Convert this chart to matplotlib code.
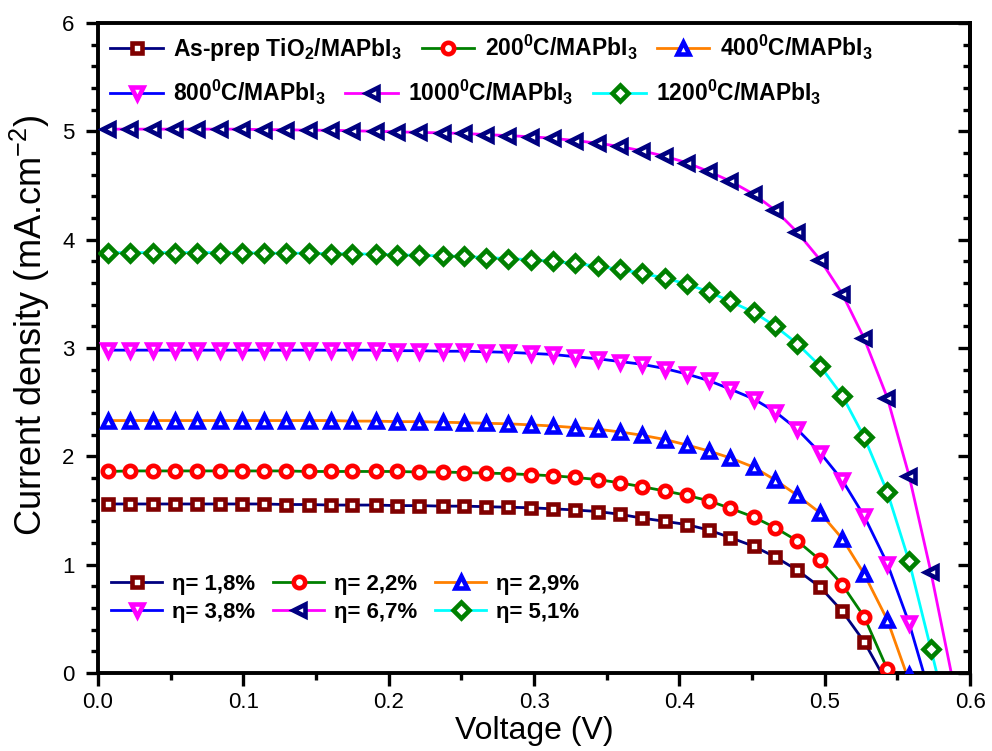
import matplotlib
matplotlib.use("Agg")
import matplotlib.pyplot as plt
from matplotlib.lines import Line2D
from matplotlib.ticker import MultipleLocator, FormatStrFormatter

plt.rcParams["font.family"] = ["Liberation Sans", "DejaVu Sans"]
plt.rcParams["mathtext.fontset"] = "custom"
plt.rcParams["mathtext.rm"] = "Liberation Sans"
plt.rcParams["mathtext.bf"] = "Liberation Sans:bold"
plt.rcParams["mathtext.it"] = "Liberation Sans:italic"

# voltage grid shared by all marker points (V)
voltage = [0.007, 0.022, 0.038, 0.053, 0.068, 0.084, 0.099, 0.114, 0.129, 0.145,
           0.160, 0.175, 0.191, 0.206, 0.221, 0.237, 0.252, 0.267, 0.282, 0.298,
           0.313, 0.328, 0.344, 0.359, 0.374, 0.390, 0.405, 0.420, 0.435, 0.451,
           0.466, 0.481, 0.497, 0.512, 0.527, 0.543, 0.558, 0.573]

# current density (mA/cm2) for each sample
j_asprep = [1.56, 1.56, 1.56, 1.56, 1.56, 1.56, 1.56, 1.56, 1.555, 1.555,
            1.55, 1.55, 1.55, 1.545, 1.545, 1.54, 1.54, 1.535, 1.53, 1.525,
            1.515, 1.505, 1.49, 1.465, 1.43, 1.40, 1.37, 1.32, 1.25, 1.17,
            1.07, 0.95, 0.79, 0.57, 0.29]
j_200 = [1.86, 1.865, 1.865, 1.865, 1.865, 1.865, 1.865, 1.865, 1.865, 1.86,
         1.86, 1.86, 1.86, 1.86, 1.855, 1.855, 1.85, 1.845, 1.84, 1.83,
         1.82, 1.805, 1.785, 1.755, 1.72, 1.68, 1.64, 1.59, 1.52, 1.44,
         1.34, 1.22, 1.04, 0.815, 0.52, 0.035]
j_400 = [2.33, 2.33, 2.33, 2.33, 2.33, 2.33, 2.33, 2.33, 2.33, 2.33,
         2.33, 2.325, 2.325, 2.32, 2.32, 2.315, 2.31, 2.305, 2.30, 2.29,
         2.28, 2.265, 2.25, 2.225, 2.195, 2.155, 2.105, 2.05, 1.985, 1.90,
         1.78, 1.64, 1.475, 1.24, 0.915, 0.49, -0.02]
j_800 = [2.98, 2.98, 2.98, 2.98, 2.98, 2.98, 2.98, 2.98, 2.98, 2.98,
         2.98, 2.98, 2.98, 2.975, 2.975, 2.97, 2.97, 2.965, 2.96, 2.95,
         2.94, 2.92, 2.90, 2.875, 2.85, 2.81, 2.76, 2.70, 2.62, 2.53,
         2.41, 2.25, 2.03, 1.78, 1.45, 1.01, 0.46]
j_1000 = [5.02, 5.02, 5.02, 5.02, 5.02, 5.02, 5.02, 5.015, 5.015, 5.01,
          5.01, 5.005, 5.0, 4.995, 4.99, 4.985, 4.98, 4.97, 4.96, 4.95,
          4.935, 4.915, 4.89, 4.86, 4.82, 4.77, 4.71, 4.63, 4.54, 4.42,
          4.27, 4.07, 3.81, 3.50, 3.09, 2.54, 1.82, 0.93]
j_1200 = [3.88, 3.88, 3.88, 3.88, 3.88, 3.88, 3.88, 3.875, 3.875, 3.875,
          3.87, 3.87, 3.865, 3.86, 3.855, 3.85, 3.845, 3.835, 3.825, 3.815,
          3.80, 3.78, 3.755, 3.725, 3.69, 3.645, 3.59, 3.52, 3.43, 3.33,
          3.20, 3.04, 2.83, 2.56, 2.18, 1.67, 1.03, 0.22]

# open-circuit voltage where each line meets J = 0
voc = [0.539, 0.545, 0.556, 0.568, 0.587, 0.577]

labels = [r"As-prep TiO$_\mathbf{2}$/MAPbI$_\mathbf{3}$",
          r"200$^\mathbf{0}$C/MAPbI$_\mathbf{3}$",
          r"400$^\mathbf{0}$C/MAPbI$_\mathbf{3}$",
          r"800$^\mathbf{0}$C/MAPbI$_\mathbf{3}$",
          r"1000$^\mathbf{0}$C/MAPbI$_\mathbf{3}$",
          r"1200$^\mathbf{0}$C/MAPbI$_\mathbf{3}$"]
efficiency = ["η= 1,8%", "η= 2,2%", "η= 2,9%", "η= 3,8%", "η= 6,7%", "η= 5,1%"]

currents = [j_asprep, j_200, j_400, j_800, j_1000, j_1200]
line_colors = ["#000080", "#008000", "#FF8000", "#0000FF", "#FF00FF", "#00FFFF"]
marker_colors = ["#800000", "#FF0000", "#0000FF", "#FF00FF", "#000080", "#008000"]
markers = ["s", "o", "^", "v", "<", "D"]
marker_sizes = [7.4, 8.2, 9.0, 9.0, 9.0, 8.2]
MEW = 3.3

fig = plt.figure(figsize=(9.92, 7.51), dpi=100)
ax = fig.add_axes([0.0988, 0.1039, 0.8792, 0.8655])

handles = []
for j, vo, lc, mc, m, ms in zip(currents, voc, line_colors, marker_colors, markers, marker_sizes):
    v = voltage[:len(j)]
    pts = sorted(zip(list(v) + [vo], list(j) + [0.0]))
    ax.plot([p[0] for p in pts], [p[1] for p in pts], color=lc, lw=2.0, zorder=2)
    ax.plot(v, j, ls="none", marker=m, ms=ms, mfc="white", mec=mc, mew=MEW, zorder=3)
    handles.append(Line2D([], [], color=lc, lw=2.0, marker=m, ms=ms, mfc="white",
                          mec=mc, mew=MEW))

ax.set_xlim(0, 0.6)
ax.set_ylim(0, 6)
ax.xaxis.set_major_locator(MultipleLocator(0.1))
ax.xaxis.set_minor_locator(MultipleLocator(0.05))
ax.yaxis.set_major_locator(MultipleLocator(1))
ax.yaxis.set_minor_locator(MultipleLocator(0.2))
ax.xaxis.set_major_formatter(FormatStrFormatter("%.1f"))
ax.tick_params(which="both", direction="out", width=2.4, labelsize=16,
               top=False, right=False)
ax.tick_params(which="major", length=9)
ax.tick_params(which="minor", length=5)
ax.tick_params(axis="x", pad=5)
ax.tick_params(axis="y", pad=8)
for sp in ax.spines.values():
    sp.set_linewidth(2.8)

ax.set_xlabel("Voltage (V)", fontsize=23, labelpad=2)
ax.set_ylabel(r"Current density (mA.cm$^{-2}$)", fontsize=26)
ax.yaxis.set_label_coords(-0.053, 0.535)

# right-hand ticks point inward as in the original plot
ax2 = ax.secondary_yaxis("right")
ax2.yaxis.set_major_locator(MultipleLocator(1))
ax2.yaxis.set_minor_locator(MultipleLocator(0.2))
ax2.tick_params(which="both", direction="in", width=2.4, labelright=False)
ax2.tick_params(which="major", length=9)
ax2.tick_params(which="minor", length=5)
ax2.spines["right"].set_linewidth(2.8)

legend_style = dict(frameon=False, prop={"weight": "bold", "size": 16.5},
                    handlelength=2.3, handletextpad=0.45, columnspacing=0.85,
                    borderaxespad=0, borderpad=0)

row1 = ax.legend(handles[:3], labels[:3], ncol=3, loc="center left",
                 bbox_to_anchor=(0.014, 0.962), **legend_style)
ax.add_artist(row1)
row2 = ax.legend(handles[3:], labels[3:], ncol=3, loc="center left",
                 bbox_to_anchor=(0.014, 0.893), **legend_style)
ax.add_artist(row2)

order = [0, 3, 1, 4, 2, 5]
eff_style = dict(legend_style)
eff_style["prop"] = {"weight": "bold", "size": 16}
eff_style["columnspacing"] = 0.8
ax.legend([handles[i] for i in order], [efficiency[i] for i in order], ncol=3,
          loc="center left", bbox_to_anchor=(0.015, 0.115), labelspacing=0.32,
          **eff_style)

fig.savefig("out.png", dpi=100)
